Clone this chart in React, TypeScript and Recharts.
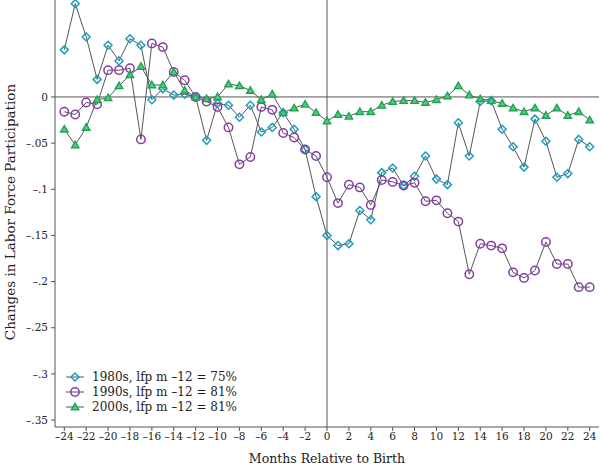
import { LineChart, Line, XAxis, YAxis, ReferenceLine } from 'recharts';

const months = [
  -24, -23, -22, -21, -20, -19, -18, -17, -16, -15, -14, -13, -12, -11, -10, -9, -8, -7, -6, -5, -4, -3, -2, -1,
  0, 1, 2, 3, 4, 5, 6, 7, 8, 9, 10, 11, 12, 13, 14, 15, 16, 17, 18, 19, 20, 21, 22, 23, 24,
];

const lfp1980s = [
  0.051, 0.101, 0.065, 0.019, 0.056, 0.039, 0.063, 0.056, -0.003, 0.009, 0.002, 0.003, 0.0, -0.047, -0.007, -0.009,
  -0.022, -0.009, -0.038, -0.033, -0.017, -0.035, -0.057, -0.108, -0.15, -0.161, -0.159, -0.123, -0.133, -0.082,
  -0.077, -0.096, -0.086, -0.064, -0.089, -0.095, -0.028, -0.064, -0.005, -0.004, -0.035, -0.054, -0.076, -0.024,
  -0.048, -0.087, -0.083, -0.046, -0.054,
];

const lfp1990s = [
  -0.016, -0.019, -0.006, -0.008, 0.029, 0.029, 0.031, -0.046, 0.058, 0.054, 0.027, 0.018, 0.0, -0.005, -0.011,
  -0.033, -0.073, -0.065, -0.011, -0.014, -0.039, -0.044, -0.057, -0.064, -0.087, -0.115, -0.095, -0.098, -0.117,
  -0.09, -0.092, -0.096, -0.093, -0.113, -0.112, -0.126, -0.135, -0.192, -0.159, -0.161, -0.164, -0.19, -0.196,
  -0.188, -0.157, -0.181, -0.181, -0.206, -0.206,
];

const lfp2000s = [
  -0.035, -0.052, -0.033, -0.003, -0.001, 0.012, 0.024, 0.033, 0.013, 0.013, 0.027, 0.007, 0.0, -0.002, 0.0, 0.014,
  0.012, 0.007, -0.003, 0.003, -0.017, -0.012, -0.008, -0.017, -0.026, -0.019, -0.021, -0.016, -0.016, -0.009,
  -0.005, -0.004, -0.004, -0.006, -0.003, 0.001, 0.012, 0.002, -0.002, -0.004, -0.007, -0.012, -0.016, -0.012,
  -0.02, -0.012, -0.02, -0.016, -0.025,
];

const xTicks = [-24, -22, -20, -18, -16, -14, -12, -10, -8, -6, -4, -2, 0, 2, 4, 6, 8, 10, 12, 14, 16, 18, 20, 22, 24];
const yTicks = [0, -0.05, -0.1, -0.15, -0.2, -0.25, -0.3, -0.35];

const legendLabels = ['1980s, lfp m –12 = 75%', '1990s, lfp m –12 = 81%', '2000s, lfp m –12 = 81%'];

const data = months.map((m, i) => ({
  month: m,
  a: lfp1980s[i],
  b: lfp1990s[i],
  c: lfp2000s[i],
}));

const TEAL = '#1b9fc0';
const PURPLE = '#8a3aa6';
const GREEN = '#1ba552';
const GREEN_FILL = '#5cc57f';
const LINE = '#555';
const FONT = '"DejaVu Serif", serif';

const Diamond = (props: any) => {
  const { cx, cy } = props;
  if (cx == null || cy == null) return null;
  const s = 4;
  return (
    <path
      d={`M${cx},${cy - s} L${cx + s},${cy} L${cx},${cy + s} L${cx - s},${cy} Z`}
      fill="none"
      stroke={TEAL}
      strokeWidth={1.5}
    />
  );
};

const Ring = (props: any) => {
  const { cx, cy } = props;
  if (cx == null || cy == null) return null;
  return <circle cx={cx} cy={cy} r={4.2} fill="none" stroke={PURPLE} strokeWidth={1.5} />;
};

const Tri = (props: any) => {
  const { cx, cy } = props;
  if (cx == null || cy == null) return null;
  const s = 3.7;
  return (
    <path
      d={`M${cx},${cy - s} L${cx + s},${cy + s * 0.75} L${cx - s},${cy + s * 0.75} Z`}
      fill={GREEN_FILL}
      stroke={GREEN}
      strokeWidth={1.4}
    />
  );
};

const fmtY = (v: number) => {
  if (Math.abs(v) < 1e-9) return '0';
  return '–' + String(Math.abs(v)).replace(/^0/, '');
};

const fmtX = (v: number) => (v < 0 ? '–' + Math.abs(v) : String(v));

const markers = [Diamond, Ring, Tri];

export default function App() {
  return (
    <div style={{ position: 'absolute', left: 0, top: 0, width: 601, height: 466, background: '#fff' }}>
      <LineChart width={601} height={466} data={data} margin={{ top: 0, right: 2, bottom: 0, left: 0 }}>
        <XAxis
          dataKey="month"
          type="number"
          domain={[-24.85, 24.85]}
          ticks={xTicks}
          tickFormatter={fmtX}
          allowDataOverflow
          height={39}
          stroke={LINE}
          tickSize={4}
          tickMargin={2}
          tick={{ fill: '#222', fontSize: 10.5, fontFamily: FONT }}
          interval={0}
          label={{
            value: 'Months Relative to Birth',
            position: 'insideBottom',
            offset: 3,
            style: { fill: '#222', fontSize: 12.5, fontFamily: FONT },
          }}
        />
        <YAxis
          type="number"
          domain={[-0.3575, 0.105]}
          ticks={yTicks}
          tickFormatter={fmtY}
          allowDataOverflow
          width={55}
          stroke={LINE}
          tickSize={4}
          tickMargin={3}
          interval={0}
          tick={{ fill: '#222', fontSize: 10.5, fontFamily: FONT }}
          label={() => (
            <text
              x={10}
              y={212}
              transform="rotate(-90 10 212)"
              textAnchor="middle"
              dominantBaseline="central"
              style={{ fill: '#222', fontSize: 13.5, fontFamily: FONT }}
            >
              Changes in Labor Force Participation
            </text>
          )}
        />
        <ReferenceLine y={0} stroke={LINE} strokeWidth={1} />
        <ReferenceLine x={0} stroke={LINE} strokeWidth={1} />
        <Line dataKey="a" stroke={LINE} strokeWidth={1} dot={<Diamond />} isAnimationActive={false} />
        <Line dataKey="b" stroke={LINE} strokeWidth={1} dot={<Ring />} isAnimationActive={false} />
        <Line dataKey="c" stroke={LINE} strokeWidth={1} dot={<Tri />} isAnimationActive={false} />
      </LineChart>
      <div style={{ position: 'absolute', left: 64, top: 369, fontFamily: FONT, fontSize: 12, color: '#222' }}>
        {legendLabels.map((label, i) => {
          const M = markers[i];
          return (
            <div key={label} style={{ display: 'flex', alignItems: 'center', height: 15 }}>
              <svg width={24} height={14} style={{ marginRight: 4 }}>
                <line x1={2} y1={7} x2={20} y2={7} stroke={LINE} strokeWidth={1} />
                <M cx={11} cy={7} />
              </svg>
              <span>{label}</span>
            </div>
          );
        })}
      </div>
    </div>
  );
}
